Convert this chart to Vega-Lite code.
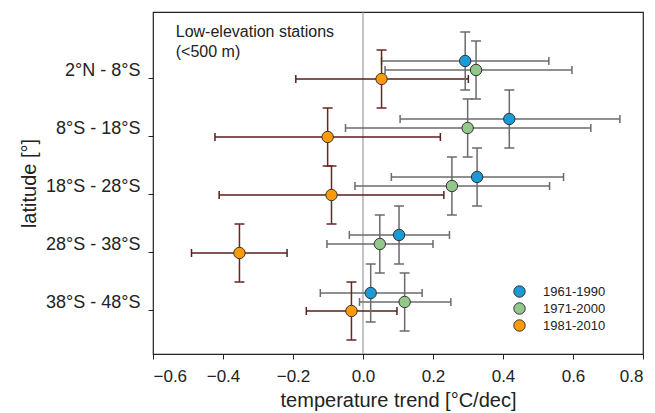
{
  "$schema": "https://vega.github.io/schema/vega-lite/v6.json",
  "width": 490,
  "height": 342,
  "autosize": {"type": "none"},
  "padding": {"left": 153, "top": 12, "right": 12, "bottom": 59},
  "config": {
    "font": "Liberation Sans",
    "view": {"stroke": "#222222", "strokeWidth": 1.2},
    "axis": {"grid": false, "domain": false, "tickColor": "#222222", "labelColor": "#222222", "titleColor": "#222222", "titleFontWeight": "normal"}
  },
  "layer": [
    {
      "data": {"values": [{}]},
      "mark": {"type": "rule", "color": "#8a8a8a", "strokeWidth": 1},
      "encoding": {
        "x": {"datum": 0, "type": "quantitative", "scale": {"domain": [-0.6, 0.8], "nice": false, "zero": false}}
      }
    },
    {
      "data": {
        "values": [
          {"lat": "2°N - 8°S", "period": "1961-1990", "trend": 0.292, "lo": 0.053, "hi": 0.531},
          {"lat": "2°N - 8°S", "period": "1971-2000", "trend": 0.323, "lo": 0.063, "hi": 0.597},
          {"lat": "2°N - 8°S", "period": "1981-2010", "trend": 0.053, "lo": -0.192, "hi": 0.301},
          {"lat": "8°S - 18°S", "period": "1961-1990", "trend": 0.418, "lo": 0.106, "hi": 0.734},
          {"lat": "8°S - 18°S", "period": "1971-2000", "trend": 0.299, "lo": -0.050, "hi": 0.651},
          {"lat": "8°S - 18°S", "period": "1981-2010", "trend": -0.101, "lo": -0.423, "hi": 0.221},
          {"lat": "18°S - 28°S", "period": "1961-1990", "trend": 0.326, "lo": 0.081, "hi": 0.573},
          {"lat": "18°S - 28°S", "period": "1971-2000", "trend": 0.254, "lo": -0.023, "hi": 0.533},
          {"lat": "18°S - 28°S", "period": "1981-2010", "trend": -0.090, "lo": -0.411, "hi": 0.231},
          {"lat": "28°S - 38°S", "period": "1961-1990", "trend": 0.103, "lo": -0.039, "hi": 0.247},
          {"lat": "28°S - 38°S", "period": "1971-2000", "trend": 0.048, "lo": -0.103, "hi": 0.200},
          {"lat": "28°S - 38°S", "period": "1981-2010", "trend": -0.353, "lo": -0.490, "hi": -0.217},
          {"lat": "38°S - 48°S", "period": "1961-1990", "trend": 0.022, "lo": -0.122, "hi": 0.169},
          {"lat": "38°S - 48°S", "period": "1971-2000", "trend": 0.119, "lo": -0.010, "hi": 0.251},
          {"lat": "38°S - 48°S", "period": "1981-2010", "trend": -0.033, "lo": -0.162, "hi": 0.097}
        ]
      },
      "encoding": {
        "y": {
          "field": "lat", "type": "nominal",
          "scale": {"domain": ["2°N - 8°S", "8°S - 18°S", "18°S - 28°S", "28°S - 38°S", "38°S - 48°S"], "paddingInner": 0.53448, "paddingOuter": 0.71552, "align": 0.5361},
          "axis": {"title": "latitude [°]", "titleFontSize": 20, "titlePadding": 6, "labelFontSize": 18, "labelPadding": 8, "tickSize": 5, "labelOffset": 1, "bandPosition": 0.8333}
        },
        "yOffset": {
          "field": "period", "type": "nominal",
          "scale": {"domain": ["1961-1990", "1971-2000", "1981-2010"], "paddingInner": 0, "paddingOuter": 0}
        }
      },
      "layer": [
        {
          "mark": {"type": "rule", "strokeWidth": 1.5},
          "encoding": {
            "x": {"field": "lo", "type": "quantitative", "scale": {"domain": [-0.6, 0.8], "nice": false, "zero": false},
              "axis": {"title": "temperature trend [°C/dec]", "titleFontSize": 20, "titlePadding": 6, "labelFontSize": 17, "labelPadding": 9, "tickSize": 5, "values": [-0.6, -0.4, -0.2, 0, 0.2, 0.4, 0.6, 0.8], "format": ".1f"}},
            "x2": {"field": "hi"},
            "stroke": {"condition": {"test": "datum.period === '1981-2010'", "value": "#5a1e1e"}, "value": "#6b6b6b"}
          }
        },
        {
          "mark": {"type": "point", "shape": "M0,-1V1", "size": 64, "filled": false, "strokeWidth": 1.5, "opacity": 1},
          "encoding": {
            "x": {"field": "lo", "type": "quantitative"},
            "stroke": {"condition": {"test": "datum.period === '1981-2010'", "value": "#5a1e1e"}, "value": "#6b6b6b"}
          }
        },
        {
          "mark": {"type": "point", "shape": "M0,-1V1", "size": 64, "filled": false, "strokeWidth": 1.5, "opacity": 1},
          "encoding": {
            "x": {"field": "hi", "type": "quantitative"},
            "stroke": {"condition": {"test": "datum.period === '1981-2010'", "value": "#5a1e1e"}, "value": "#6b6b6b"}
          }
        },
        {
          "mark": {"type": "point", "shape": "M-0.172,-1H0.172M0,-1V1M-0.172,1H0.172", "size": 3364, "filled": false, "strokeWidth": 1.5, "opacity": 1},
          "encoding": {
            "x": {"field": "trend", "type": "quantitative"},
            "stroke": {"condition": {"test": "datum.period === '1981-2010'", "value": "#6e2424"}, "value": "#6b6b6b"}
          }
        },
        {
          "mark": {"type": "point", "shape": "circle", "size": 130, "filled": true, "stroke": "#333333", "strokeWidth": 1, "opacity": 1},
          "encoding": {
            "x": {"field": "trend", "type": "quantitative"},
            "fill": {
              "field": "period", "type": "nominal",
              "scale": {"domain": ["1961-1990", "1971-2000", "1981-2010"], "range": ["#1a9ad6", "#93c88a", "#fd9a06"]},
              "legend": {"title": null, "orient": "none", "legendX": 360, "legendY": 273, "padding": 0, "symbolType": "circle", "symbolSize": 130, "symbolStrokeColor": "#333333", "symbolStrokeWidth": 1, "symbolOpacity": 1, "labelFontSize": 13, "labelColor": "#222222", "labelOffset": 17, "rowPadding": 0}
            }
          }
        }
      ]
    },
    {
      "data": {"values": [{}]},
      "mark": {"type": "text", "text": ["Low-elevation stations", "(<500 m)"], "align": "left", "baseline": "top", "fontSize": 16, "lineHeight": 20, "fill": "#222222", "dy": -46},
      "encoding": {
        "x": {"datum": -0.535, "type": "quantitative"},
        "y": {"datum": "2°N - 8°S", "type": "nominal"}
      }
    }
  ]
}
